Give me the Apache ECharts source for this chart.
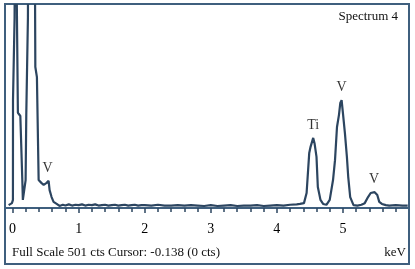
<!DOCTYPE html>
<html>
<head>
<meta charset="utf-8">
<script src="https://cdn.jsdelivr.net/npm/echarts@6/dist/echarts.min.js"></script>
<style>
html,body{margin:0;padding:0;background:#fff;}
#c{width:415px;height:269px;}
</style>
</head>
<body>
<div id="c"></div>
<script>
// Spectrum: energy (keV) and counts
var energy = [-0.06,-0.03,-0.01,0.005,0.006,0.03,0.04,0.055,0.065,0.08,0.117,0.147,0.155,0.18,0.197,0.207,0.232,0.24,0.33,0.344,0.368,0.394,0.435,0.47,0.515,0.545,0.56,0.59,0.62,0.667,0.71,
  0.76,0.8,0.85,0.9,0.95,1.0,1.05,1.1,1.15,1.2,1.25,1.3,1.35,1.4,1.45,1.5,1.55,1.6,1.65,1.7,1.75,1.8,1.85,1.9,1.95,2.0,2.1,2.2,2.3,2.4,2.5,2.6,2.7,2.8,2.9,3.0,3.1,3.2,3.3,3.4,3.5,3.6,3.7,3.8,3.9,4.0,4.1,4.2,4.3,4.35,
  4.41,4.45,4.49,4.51,4.55,4.57,4.60,4.62,4.66,4.70,4.75,
  4.80,4.85,4.88,4.91,4.94,4.96,4.98,5.00,5.03,5.06,5.08,5.11,5.16,5.22,5.28,
  5.33,5.38,5.42,5.48,5.52,5.55,5.59,5.65,5.7,5.8,5.9,5.98];
var counts = [7,8,12,20,266,470,900,900,900,235,227,69,20,17,69,230,471,900,900,348,323,69,62,57,62,67,44,27,15,10,5,
  8,6,9,6,8,7,9,6,8,7,9,6,7,8,6,7,8,6,7,8,6,7,8,6,7,7,6,8,6,6,7,6,7,6,5,7,5,6,7,5,6,6,7,5,6,7,6,8,9,10,
  12,37,136,151,173,160,126,52,20,10,8,
  20,69,118,200,230,259,266,234,185,126,77,27,7,6,8,
  12,27,37,39,32,15,10,7,6,7,6,6];

// Peak annotations
var peakNames = ['V','Ti','V','V'];
var peakEnergy = [0.53,4.55,4.98,5.47];
var peakCounts = [67,173,266,39];

// Axis ticks
var majorTicks = [0,1,2,3,4,5];
var minorTicks = [0,0.2,0.4,0.6,0.8,1,1.2,1.4,1.6,1.8,2,2.2,2.4,2.6,2.8,3,3.2,3.4,3.6,3.8,4,4.2,4.4,4.6,4.8,5,5.2,5.4,5.6,5.8];

var fullScale = 501;
var titleText = 'Spectrum 4';
var footerText = 'Full Scale 501 cts Cursor: -0.138 (0 cts)';
var unitText = 'keV';

var spectrum = energy.map(function(e,i){return [e, counts[i]];});
var peaks = peakNames.map(function(n,i){return {name:n, value:[peakEnergy[i], peakCounts[i]]};});

var chart = echarts.init(document.getElementById('c'), null, {renderer:'canvas'});
var serif = '"Liberation Serif", "DejaVu Serif", serif';
var frameColor = '#3f5f7e';
chart.setOption({
  animation:false,
  grid:{left:6,right:6,top:5,bottom:61,show:false},
  xAxis:[{
    type:'value', min:-0.1, max:6, position:'bottom',
    axisLine:{show:true,lineStyle:{color:frameColor,width:2}},
    axisTick:{show:true,customValues:minorTicks,length:4,lineStyle:{color:'#2c4560',width:1.5}},
    axisLabel:{show:true,customValues:majorTicks,margin:14,color:'#000',fontFamily:serif,fontSize:14},
    splitLine:{show:false}
  },{
    type:'value', min:-0.1, max:6, gridIndex:0, position:'bottom',
    axisLine:{show:false,onZero:false},
    axisTick:{show:true,customValues:majorTicks,length:5,lineStyle:{color:'#2c4560',width:1.5}},
    axisLabel:{show:false},
    splitLine:{show:false}
  }],
  yAxis:{type:'value',min:0,max:fullScale,show:false,splitLine:{show:false}},
  series:[{
    type:'line', data:spectrum, showSymbol:false, symbol:'none', clip:true,
    lineStyle:{color:'#2c4560',width:2.2}
  },{
    type:'scatter', data:peaks, symbolSize:0,
    label:{show:true,position:'top',distance:6,formatter:'{b}',color:'#000',fontFamily:serif,fontSize:14}
  }],
  graphic:[
    {type:'rect',shape:{x:5,y:4,width:404,height:260},style:{fill:null,stroke:frameColor,lineWidth:2},silent:true},
    {type:'text',right:17,top:10,style:{text:titleText,font:'13px '+serif,fill:'#111'}},
    {type:'text',left:12,top:246,style:{text:footerText,font:'13px '+serif,fill:'#111'}},
    {type:'text',right:9,top:246,style:{text:unitText,font:'13px '+serif,fill:'#111'}}
  ]
});
</script>
</body>
</html>
